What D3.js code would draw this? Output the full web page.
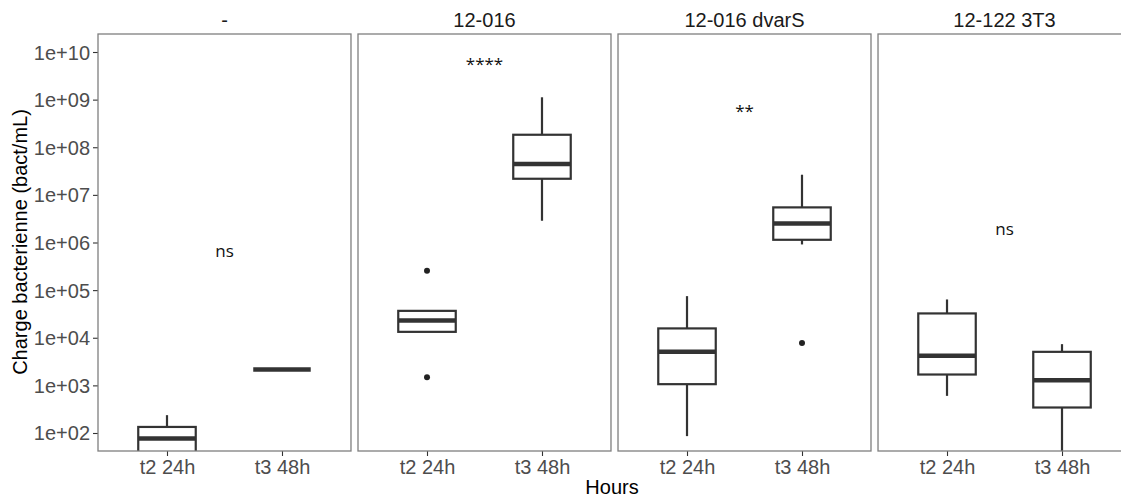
<!DOCTYPE html>
<html><head><meta charset="utf-8">
<script src="https://cdn.jsdelivr.net/npm/d3@7"></script>
<style>body{margin:0;background:#fff}</style>
</head><body><svg id="c" width="1121" height="499"></svg>
<script>
const facets = ["-", "12-016", "12-016 dvarS", "12-122 3T3"];
const times = ["t2 24h", "t3 48h"];
// per facet: [t2 24h, t3 48h]
const lowerWhisker = [[20, 2160], [13300, 2.86e6], [86, 9.1e5], [602, 30]];
const q1           = [[30, 2160], [13300, 2.18e7], [1060, 1.14e6], [1690, 343]];
const median       = [[77, 2160], [23100, 4.44e7], [5060, 2.52e6], [4170, 1285]];
const q3           = [[134, 2160], [36700, 1.83e8], [15700, 5.46e6], [32400, 5060]];
const upperWhisker = [[237, 2160], [36700, 1.12e9], [74800, 2.65e7], [63700, 7340]];
const outliers     = [[[], []], [[255000, 1490], []], [[], [7800]], [[], []]];
const sigLabels = ["ns", "****", "**", "ns"];
const sigY = [4.9e5, 4.2e9, 4.3e8, 1.43e6];
const yTicks = [1e2, 1e3, 1e4, 1e5, 1e6, 1e7, 1e8, 1e9, 1e10];

(function () {
const svg = d3.select("#c");
const pTop = 34, pBottom = 451;
const fx = d3.scaleBand().domain(facets).range([98, 1131]).paddingInner(0.027).paddingOuter(0);
const pw = fx.bandwidth();
const y = d3.scaleLog().domain([Math.pow(10, 1.622), Math.pow(10, 10.378)]).range([pBottom, pTop]);
const x = d3.scalePoint().domain(times).range([0, pw]).padding(0.6);
const bw = x.step() * 0.5;
const font = "'Liberation Sans', Arial, sans-serif";
const fs = "20px";

const fmt = v => "1e+" + String(Math.round(Math.log10(v))).padStart(2, "0");
const ya = svg.append("g").attr("transform", `translate(${fx(facets[0])},0)`)
  .call(d3.axisLeft(y).tickValues(yTicks).tickFormat(fmt).tickSize(5).tickPadding(3));
ya.select(".domain").remove();
ya.selectAll(".tick line").attr("stroke", "#333").attr("stroke-width", 1.1);
ya.selectAll(".tick text").attr("fill", "#4d4d4d").style("font-family", font).style("font-size", fs).attr("dy", "0.35em");

svg.append("text").attr("transform", "translate(27,242) rotate(-90)")
  .attr("text-anchor", "middle").style("font-family", font).style("font-size", fs).attr("fill", "#000")
  .text("Charge bacterienne (bact/mL)");
svg.append("text").attr("x", 612).attr("y", 494).attr("text-anchor", "middle")
  .style("font-family", font).style("font-size", fs).attr("fill", "#000").text("Hours");

facets.forEach((f, i) => {
  const g = svg.append("g").attr("transform", `translate(${fx(f)},0)`);
  const cid = "clip" + i;
  g.append("clipPath").attr("id", cid).append("rect")
    .attr("x", 0).attr("y", pTop).attr("width", pw).attr("height", pBottom - pTop);
  g.append("text").attr("x", pw / 2).attr("y", 27).attr("text-anchor", "middle")
    .style("font-family", font).style("font-size", fs).attr("fill", "#1a1a1a").text(f);
  const xa = g.append("g").attr("transform", `translate(0,${pBottom})`)
    .call(d3.axisBottom(x).tickSize(5).tickPadding(4));
  xa.select(".domain").remove();
  xa.selectAll(".tick line").attr("stroke", "#333").attr("stroke-width", 1.1);
  xa.selectAll(".tick text").attr("fill", "#4d4d4d").style("font-family", font).style("font-size", fs);

  const pg = g.append("g").attr("clip-path", `url(#${cid})`);
  times.forEach((t, j) => {
    const cx = x(t);
    const st = "#333";
    pg.append("line").attr("x1", cx).attr("x2", cx).attr("y1", y(q3[i][j])).attr("y2", y(upperWhisker[i][j]))
      .attr("stroke", st).attr("stroke-width", 2.2);
    pg.append("line").attr("x1", cx).attr("x2", cx).attr("y1", y(q1[i][j])).attr("y2", y(lowerWhisker[i][j]))
      .attr("stroke", st).attr("stroke-width", 2.2);
    pg.append("rect").attr("x", cx - bw / 2).attr("width", bw)
      .attr("y", y(q3[i][j])).attr("height", Math.max(0, y(q1[i][j]) - y(q3[i][j])))
      .attr("fill", "#fff").attr("stroke", st).attr("stroke-width", 2.2);
    pg.append("line").attr("x1", cx - bw / 2).attr("x2", cx + bw / 2)
      .attr("y1", y(median[i][j])).attr("y2", y(median[i][j]))
      .attr("stroke", st).attr("stroke-width", 4.5);
    outliers[i][j].forEach(v => {
      pg.append("circle").attr("cx", cx).attr("cy", y(v)).attr("r", 3).attr("fill", "#222");
    });
  });
  g.append("text").attr("x", pw / 2).attr("y", y(sigY[i])).attr("text-anchor", "middle")
    .style("font-family", "'Open Sans', 'Noto Sans', sans-serif").style("font-size", "17px").attr("fill", "#111")
    .text(sigLabels[i]);
  g.append("rect").attr("x", 0).attr("y", pTop).attr("width", pw).attr("height", pBottom - pTop)
    .attr("fill", "none").attr("stroke", "#7f7f7f").attr("stroke-width", 1.3);
});
})();
</script></body></html>
